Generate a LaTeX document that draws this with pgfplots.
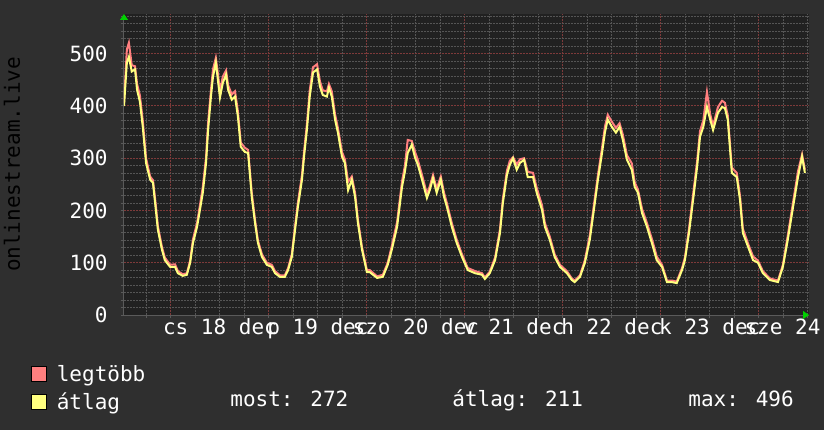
\documentclass[border=0pt]{standalone}
\usepackage{pgfplots}
\pgfplotsset{compat=1.18}
\usepackage{fontspec}
\setmainfont{DejaVu Sans Mono}
\usetikzlibrary{arrows.meta}

\definecolor{backc}{HTML}{2F2F2F}
\definecolor{canvasc}{HTML}{212121}
\definecolor{maxc}{HTML}{FF7F7F}
\definecolor{avgc}{HTML}{FFFF7F}
\definecolor{gridminor}{HTML}{555555}
\definecolor{gridmajor}{HTML}{7E3A3A}
\definecolor{axisc}{HTML}{5A5A5A}
\definecolor{arrowc}{HTML}{00D000}
\newcommand\rrdfont{\fontsize{10.5pt}{12pt}\selectfont}

% hours from dec 18 00:00
\pgfplotstableread{
h     avg  mx
-11.5 400 405
-10.8 483 508
-10.3 494 521
-9.6  466 478
-8.8  470 476
-8.3  431 442
-7.6  408 420
-6.9  360 372
-6.1  291 300
-5.1  259 265
-4.4  253 258
-3.7  201 210
-3.2  163 170
-2.2  125 130
-1.5  105 110
-0.2  92  96
1.0   92  97
1.7   80  84
2.9   75  78
3.9   77  80
4.7   100 104
5.4   138 145
6.4   169 176
7.1   201 210
7.8   234 245
8.6   291 302
9.1   354 368
9.8   418 430
10.3  456 470
11.0  483 492
11.5  450 462
12.0  416 428
12.7  444 456
13.5  460 468
14.0  431 440
14.9  412 422
15.7  418 428
16.4  380 390
17.1  322 330
18.1  312 320
18.9  310 316
19.8  226 234
20.6  176 182
21.3  138 143
22.3  111 116
23.5  96  100
24.7  92  96
25.5  80  84
26.7  73  76
27.9  73  76
28.7  86  90
29.6  111 116
30.4  163 170
31.1  207 215
32.1  259 268
32.6  303 312
33.3  354 365
34.0  418 430
34.8  464 474
35.8  470 480
36.5  437 447
37.2  421 430
38.2  418 428
38.7  435 442
39.4  418 428
40.2  374 384
40.9  349 358
41.9  303 312
42.6  291 298
43.4  239 255
44.3  259 265
45.1  226 234
45.8  176 183
46.8  125 130
48.0  82  86
48.7  82  86
50.5  71  74
51.9  73  77
53.1  96  100
54.1  125 132
55.4  169 178
56.6  245 256
57.3  274 285
58.0  310 335
59.0  326 333
59.8  301 312
60.5  287 296
61.5  259 268
62.7  224 232
63.4  239 246
64.2  262 268
65.1  234 242
66.1  259 265
66.9  226 234
67.6  207 214
68.8  169 176
70.0  138 144
71.3  111 116
72.7  86  90
74.5  80  84
76.2  77  80
76.9  69  72
78.1  80  83
79.4  105 110
80.6  157 164
81.3  214 222
82.3  268 276
83.0  287 295
83.8  300 302
84.7  278 288
85.5  291 298
86.5  297 300
87.4  264 274
88.7  264 272
89.6  234 243
90.9  201 210
91.6  169 176
92.8  144 150
94.0  111 116
95.3  92  96
97.0  80  84
98.2  67  70
98.9  63  66
100.2 73  76
101.4 100 105
102.6 144 152
103.6 201 210
104.6 259 268
105.6 310 320
106.3 349 360
107.0 374 383
108.0 360 370
109.0 349 358
109.9 360 367
110.7 335 345
111.7 297 306
112.9 278 290
113.6 245 254
114.4 234 240
115.4 195 203
116.6 169 176
117.8 138 146
119.0 105 112
120.3 92  96
121.5 63  66
122.7 63  66
123.9 61  64
125.2 86  90
125.9 105 110
126.9 157 165
127.9 220 230
128.9 284 295
129.6 341 352
130.4 360 372
131.3 398 427
132.1 374 384
132.8 354 362
134.0 387 398
135.0 398 410
135.7 396 406
136.4 374 382
137.4 272 282
138.6 264 272
139.4 220 228
140.1 157 165
141.4 130 136
142.6 105 112
143.8 100 104
145.0 80  84
146.7 67  70
148.7 63  66
149.9 92  96
151.1 144 152
152.4 207 216
153.6 264 275
154.6 303 307
155.3 272 278
}\traffic

\begin{document}
\begin{tikzpicture}[font=\rrdfont]
\useasboundingbox (0,0) rectangle (412pt,215pt);
\fill[backc] (0,0) rectangle (412pt,215pt);
\begin{axis}[
  at={(62pt,57.5pt)}, anchor=south west,
  scale only axis, width=342.5pt, height=150.5pt,
  xmin=-11.5, xmax=156.3, ymin=0, ymax=576,
  axis lines=left,
  axis line style={draw=axisc, line width=0.5pt,
    -{Triangle[color=arrowc, length=3pt, width=4pt]}},
  axis background/.style={fill=canvasc},
  xtick={0,24,48,72,96,120,144}, xticklabels={},
  minor xtick={-6,6,12,18,30,36,42,54,60,66,78,84,90,102,108,114,126,132,138,150,156},
  extra x ticks={12,36,60,84,108,132,156},
  extra x tick labels={cs 18 dec,p 19 dec,szo 20 dec,v 21 dec,h 22 dec,k 23 dec,sze 24 dec},
  extra x tick style={grid=none, major tick length=0pt},
  ytick={0,100,...,500},
  minor ytick={14.29,28.57,42.86,57.14,71.43,85.71,
    114.29,128.57,142.86,157.14,171.43,185.71,
    214.29,228.57,242.86,257.14,271.43,285.71,
    314.29,328.57,342.86,357.14,371.43,385.71,
    414.29,428.57,442.86,457.14,471.43,485.71,
    514.29,528.57,542.86,557.14,571.43},
  grid=both,
  major grid style={draw=gridmajor, line width=0.5pt, dash pattern=on 1pt off 0.5pt},
  minor grid style={draw=gridminor, line width=0.5pt, dash pattern=on 1pt off 0.5pt},
  tick align=outside, major tick length=1.5pt, minor tick length=1.5pt,
  tick style={draw=axisc, line width=0.5pt},
  /pgf/number format/assume math mode=true,
  tick label style={font=\rrdfont, text=white},
  yticklabel style={inner sep=0pt, xshift=-6.5pt},
  xticklabel style={inner sep=0pt, yshift=-1.7pt},
  ylabel={onlinestream.live},
  ylabel style={font=\rrdfont, text=white},
  every axis y label/.style={at={(axis description cs:-0.1635,0.5)}, rotate=90, anchor=center},
  legend style={at={(axis description cs:-0.136,-0.166)}, anchor=north west,
    draw=none, fill=none, text=white, font=\rrdfont, inner sep=0pt,
    row sep=4.3pt, nodes={inner sep=0pt}},
  legend cell align=left,
  legend image code/.code={\filldraw[draw=black, line width=0.5pt] (0pt,-3.4pt) rectangle (7.3pt,4.2pt);},
]
\addplot[maxc, line width=1pt] table[x=h, y=mx] {\traffic};
\addlegendentry{\hspace{5pt}legtöbb}
\addplot[avgc, line width=1pt] table[x=h, y=avg] {\traffic};
\addlegendentry{\hspace{5pt}átlag}
\end{axis}
\node[anchor=base west, text=white, inner sep=0pt] at (115pt,12pt) {most: 272};
\node[anchor=base west, text=white, inner sep=0pt] at (226pt,12pt) {átlag: 211};
\node[anchor=base west, text=white, inner sep=0pt] at (344pt,12pt) {max: 496};
\end{tikzpicture}
\end{document}
